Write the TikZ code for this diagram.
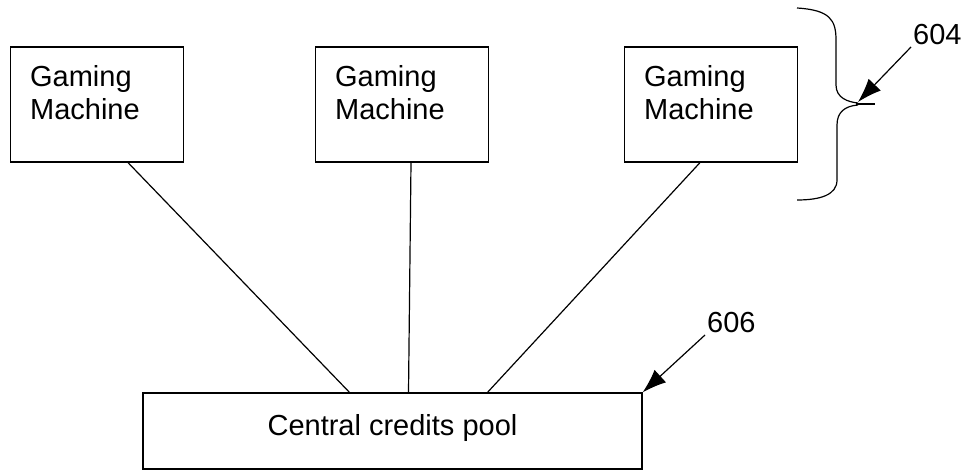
\documentclass[tikz,border=0pt]{standalone}
\usepackage{fontspec}
\setmainfont{Liberation Sans}
\usetikzlibrary{arrows.meta, positioning, calc}

\begin{document}
\begin{tikzpicture}[
    x=1pt, y=-1pt,
    machinebox/.style={rectangle, draw, line width=1.2pt, minimum width=173pt, minimum height=115pt, inner sep=0pt},
    machinetext/.style={anchor=north west, align=left, inner sep=0pt, font=\fontsize{29}{33}\selectfont},
    poolbox/.style={rectangle, draw, line width=1.2pt, minimum width=499pt, minimum height=76pt, font=\fontsize{29}{33}\selectfont},
    refnum/.style={inner sep=2pt, anchor=south west, font=\fontsize{29}{33}\selectfont},
    link/.style={line width=1.2pt},
    pointer/.style={-{Latex[length=24pt, width=17pt]}, line width=1.2pt}
]
\useasboundingbox (0,0) rectangle (972,471);

\node[machinebox] (gm1) at (97,104.5) {};
\node[machinebox] (gm2) at (402,104.5) {};
\node[machinebox] (gm3) at (711,104.5) {};
\node[machinetext] (gm1text) at ([xshift=20pt, yshift=-19pt]gm1.north west) {Gaming\\Machine};
\node[machinetext] (gm2text) at ([xshift=20pt, yshift=-19pt]gm2.north west) {Gaming\\Machine};
\node[machinetext] (gm3text) at ([xshift=20pt, yshift=-19pt]gm3.north west) {Gaming\\Machine};

\node[poolbox] (pool) at (392.5,431) {Central credits pool\rule[-12pt]{0pt}{1pt}};

\draw[link] ([xshift=31pt]gm1.south) -- ([xshift=-43pt]pool.north);
\draw[link] ([xshift=9pt]gm2.south) -- ([xshift=16pt]pool.north);
\draw[link] ([xshift=-11pt]gm3.south) -- ([xshift=95pt]pool.north);

% brace around the machines
\draw[link] (797,8) .. controls (830,10) and (836,20) .. (836,40) -- (836,85) .. controls (836,98) and (848,102) .. (858,103);
\draw[link] (858,105) .. controls (845,106) and (837,112) .. (837,125) -- (837,180) .. controls (837,195) and (820,200) .. (797,200);
\draw[link] (856,104) -- (875,104);
\coordinate (bracetip) at (858,102);

\node[refnum] (n604) at (911,47) {604};
\node[refnum] (n606) at (705,335) {606};

\draw[pointer] (n604.south west) -- (bracetip);
\draw[pointer] (n606.south west) -- (pool.north east);

\end{tikzpicture}
\end{document}
